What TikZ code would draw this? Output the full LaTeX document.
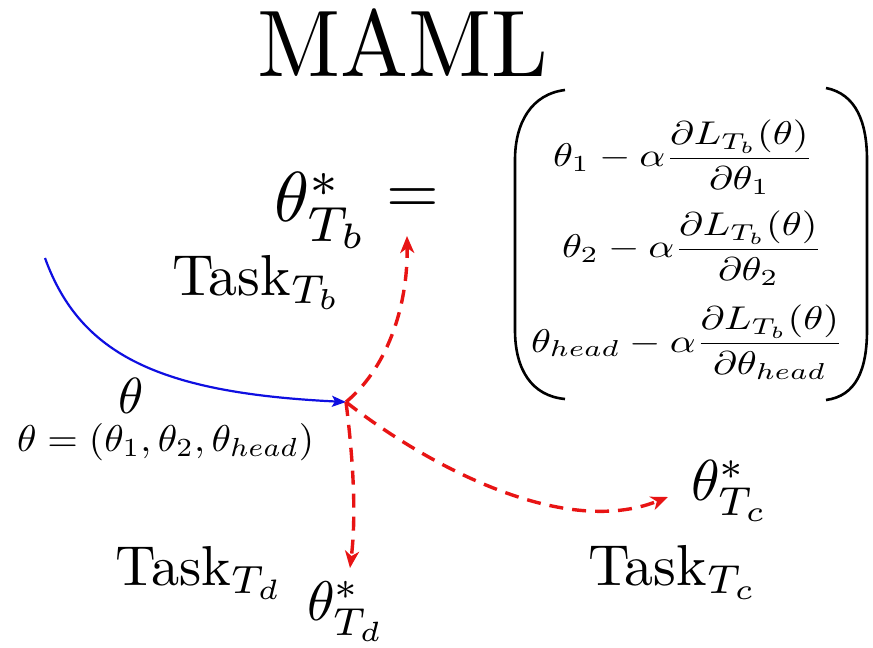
\documentclass[tikz,border=0pt]{standalone}
\usepackage{amsmath}
\usetikzlibrary{arrows.meta}
\definecolor{arrred}{RGB}{232,20,20}
\definecolor{arrblue}{RGB}{15,15,225}
\tikzset{
  txt/.style={inner sep=0pt, outer sep=0pt},
  redarrow/.style={draw=arrred, line width=3.4bp, dash pattern=on 14bp off 9bp,
    -{Stealth[length=17bp,width=14bp,inset=5bp,fill=arrred]}},
  bluearrow/.style={draw=arrblue, line width=2.2bp,
    -{Stealth[length=14bp,width=11bp,inset=3bp,fill=arrblue]}},
  parenline/.style={draw=black, line width=2.6bp}
}
\newcommand{\sbx}[2]{\scalebox{#1}{#2}}
\newcommand{\mrowtext}[2]{\scalebox{4.05}[3.3]{$\displaystyle #1 - \alpha\frac{\partial L_{T_b}(\theta)}{\partial #2}$}}
\begin{document}
\begin{tikzpicture}[x=1bp,y=-1bp]
\useasboundingbox[fill=white] (0,0) rectangle (873,648);

% texts
\node[txt, anchor=base] (title) at (403,77) {\scalebox{9.1}[9.5]{MAML}};
\node[txt, anchor=base west] (thb) at (274,222) {\sbx{7.1}{$\theta^*_{T_b}$}};
\node[txt, anchor=center] (eq) at (413,201) {\sbx{6.8}{$=$}};
\node[txt, anchor=base west] (taskb) at (172,295) {\sbx{5.8}{Task$_{T_b}$}};
\node[txt, anchor=base] (theta) at (131,413) {\sbx{5.1}{$\theta$}};
\node[txt, anchor=base west] (thetadef) at (17,451) {\scalebox{3.95}[3.75]{$\theta = (\theta_1, \theta_2, \theta_{head})$}};
\node[txt, anchor=base west] (taskd) at (115,585) {\sbx{5.65}{Task$_{T_d}$}};
\node[txt, anchor=base west] (thd) at (307,620) {\sbx{5.6}{$\theta^*_{T_d}$}};
\node[txt, anchor=base west] (thc) at (691,500) {\sbx{5.8}{$\theta^*_{T_c}$}};
\node[txt, anchor=base west] (taskc) at (588,585) {\sbx{5.8}{Task$_{T_c}$}};

% matrix rows
\node[txt, anchor=base west] (r1) at (553,167) {\mrowtext{\theta_1}{\theta_1}};
\node[txt, anchor=base west] (r2) at (562,258) {\mrowtext{\theta_2}{\theta_2}};
\node[txt, anchor=base west] (r3) at (531,352) {\mrowtext{\theta_{head}}{\theta_{head}}};

% parentheses
\draw[parenline] (565,90) .. controls (532,94) and (515,122) .. (515,160) -- (515,330)
  .. controls (515,370) and (532,396) .. (565,399);
\draw[parenline] (826,88) .. controls (856,94) and (867,122) .. (867,160) -- (867,330)
  .. controls (867,370) and (856,396) .. (826,400);

% connectors
\coordinate (start) at (45,258);
\coordinate (hub) at (346,402);
\coordinate (tipb) at (407,236);
\coordinate (tipd) at (350,568);
\coordinate (tipc) at (668,497);

\draw[bluearrow] (start) .. controls (80,355) and (160,393) .. (hub);
\draw[redarrow] (hub) .. controls (385,370) and (408,310) .. (tipb);
\draw[redarrow] (hub) .. controls (352,450) and (357,510) .. (tipd);
\draw[redarrow] (hub) .. controls (420,460) and (560,540) .. (tipc);
\end{tikzpicture}
\end{document}
